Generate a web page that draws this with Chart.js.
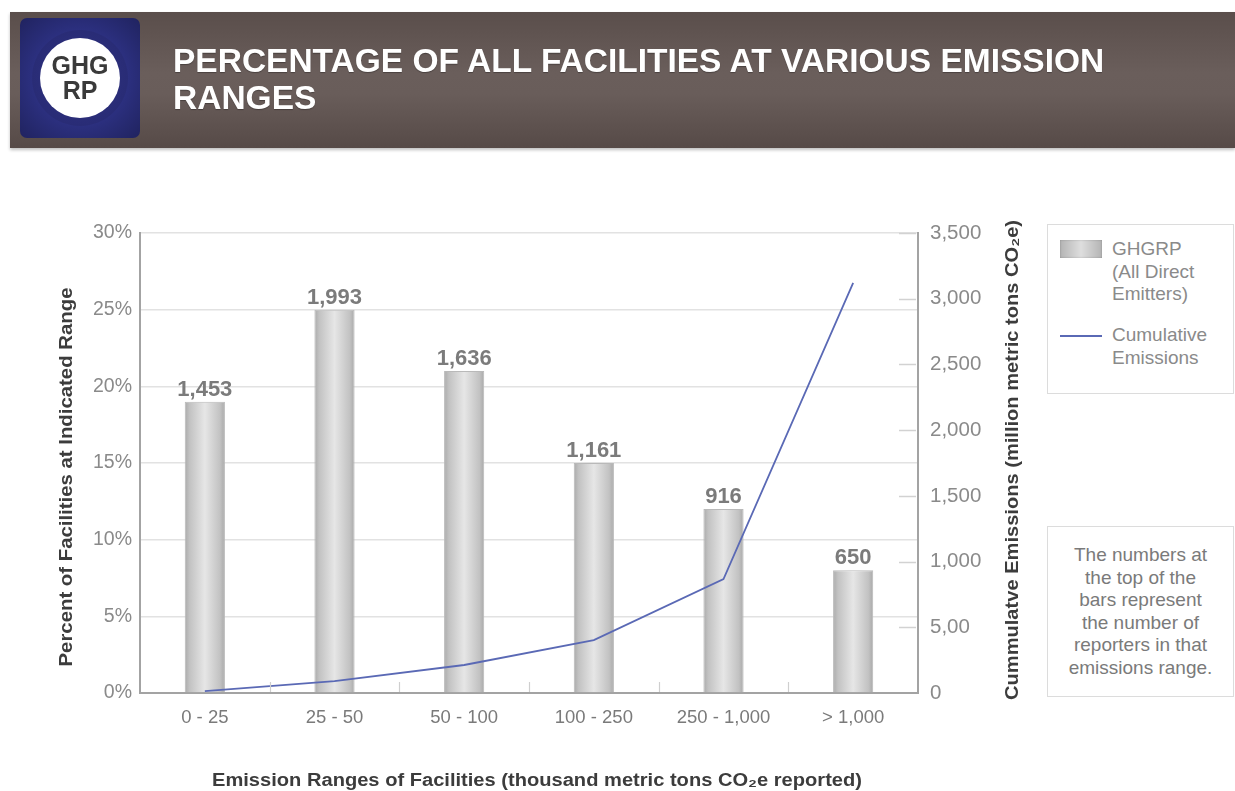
<!DOCTYPE html>
<html>
<head>
<meta charset="utf-8">
<script src="https://cdn.jsdelivr.net/npm/chart.js@4.4.1/dist/chart.umd.min.js"></script>
<style>
  html,body{margin:0;padding:0;background:#fff;}
  body{width:1235px;height:791px;overflow:hidden;position:relative;font-family:"Liberation Sans",Arial,sans-serif;}
  #header{position:absolute;left:10px;top:12px;width:1225px;height:136px;
    background:linear-gradient(to bottom,#5a4e4b 0%,#6a5e5b 45%,#695d5a 60%,#564a47 100%);
    box-shadow:0 2px 3px rgba(0,0,0,0.25);z-index:2;}
  #logo{position:absolute;left:10px;top:6px;width:120px;height:120px;border-radius:7px;
    background:radial-gradient(circle at 50% 50%,#3b3f96 0%,#2c3080 55%,#20235f 100%);}
  #logoRing{position:absolute;left:12px;top:12px;width:96px;height:96px;border-radius:50%;
    background:radial-gradient(circle,#2a2d78 60%,#262970 100%);}
  #logoCircle{position:absolute;left:20px;top:20px;width:80px;height:80px;border-radius:50%;background:#fff;
    display:flex;align-items:center;justify-content:center;text-align:center;
    font-weight:bold;font-size:25px;line-height:25px;color:#3a3a3a;}
  #title{position:absolute;left:163px;top:30px;color:#fff;font-weight:bold;font-size:33.5px;line-height:37px;
    text-shadow:0 1px 1px rgba(0,0,0,0.3);}
  #chart{position:absolute;left:0;top:0;z-index:1;}
  .box{position:absolute;left:1047px;width:185px;border:1.5px solid #dcdcdc;background:#fff;z-index:2;color:#8a8a8a;font-size:19px;line-height:22.5px;}
  #legend{top:224px;height:168px;}
  #note{top:526px;height:169px;text-align:center;color:#7a7a7a;}
  .sw{position:absolute;left:12px;width:42px;}
  #swBar{top:15px;height:18px;background:linear-gradient(to right,#b4b4b4,#dedede 50%,#b4b4b4);box-shadow:inset 0 0 2px rgba(0,0,0,0.25);}
  #swLine{top:110px;height:2px;background:#5a69b5;}
  .lt{position:absolute;left:64px;}
</style>
</head>
<body>
<div id="header">
  <div id="logo"><div id="logoRing"></div><div id="logoCircle">GHG<br>RP</div></div>
  <div id="title">PERCENTAGE OF ALL FACILITIES AT VARIOUS EMISSION<br>RANGES</div>
</div>
<div id="legend" class="box">
  <div class="sw" id="swBar"></div>
  <div class="lt" style="top:13px;">GHGRP<br>(All Direct<br>Emitters)</div>
  <div class="sw" id="swLine"></div>
  <div class="lt" style="top:99px;">Cumulative<br>Emissions</div>
</div>
<div id="note" class="box"><div style="padding-top:17px;">The numbers at<br>the top of the<br>bars represent<br>the number of<br>reporters in that<br>emissions range.</div></div>
<canvas id="chart" width="1235" height="791"></canvas>
<script>
// ---- data ----
const categories = ['0 - 25', '25 - 50', '50 - 100', '100 - 250', '250 - 1,000', '> 1,000'];
const facilityPercent = [19, 25, 21, 15, 12, 8];
const facilityCounts = [1453, 1993, 1636, 1161, 916, 650];
const cumulativeEmissions = [15, 91, 213, 403, 867, 3120];
const percentTickValues = [0, 5, 10, 15, 20, 25, 30];
const emissionTickLabels = ['0', '5,00', '1,000', '1,500', '2,000', '2,500', '3,000', '3,500'];

const xTitle = 'Emission Ranges of Facilities (thousand metric tons CO\u2082e reported)';
const yTitle = 'Percent of Facilities at Indicated Range';
const y1Title = 'Cummulatve Emissions (million metric tons CO\u2082e)';

const FONT = '"Liberation Sans", Arial, sans-serif';

function barGradient(ctx) {
  const chart = ctx.chart;
  const area = chart.chartArea;
  if (!area) return '#cccccc';
  const xs = chart.scales.x;
  const cx = xs.getPixelForValue(ctx.dataIndex);
  const half = (area.right - area.left) / categories.length * 0.31 / 2;
  const g = chart.ctx.createLinearGradient(cx - half, 0, cx + half, 0);
  g.addColorStop(0, '#aaaaaa');
  g.addColorStop(0.12, '#c2c2c2');
  g.addColorStop(0.5, '#e6e6e6');
  g.addColorStop(0.88, '#c2c2c2');
  g.addColorStop(1, '#a8a8a8');
  return g;
}

function fitText(c, text, x, y, width, rot) {
  c.save();
  c.translate(x, y);
  if (rot) c.rotate(rot);
  const w = c.measureText(text).width;
  c.scale(width / w, 1);
  c.fillText(text, 0, 0);
  c.restore();
}

const decorations = {
  id: 'decorations',
  afterDraw(chart) {
    const c = chart.ctx;
    const area = chart.chartArea;
    const xs = chart.scales.x, y1 = chart.scales.y1;
    c.save();
    // inward tick marks on x axis at category boundaries
    c.strokeStyle = '#cfcfcf';
    c.lineWidth = 1.2;
    const step = (area.right - area.left) / categories.length;
    for (let i = 1; i < categories.length; i++) {
      const x = Math.round(xs.getPixelForValue(i) - step / 2) + 0.5;
      c.beginPath(); c.moveTo(x, area.bottom - 1); c.lineTo(x, area.bottom - 11); c.stroke();
    }
    // inward tick marks on right axis
    c.strokeStyle = '#d2d2d2';
    c.lineWidth = 1.5;
    y1.ticks.forEach(t => {
      if (t.value === 0) return;
      const y = Math.round(y1.getPixelForValue(t.value)) + 0.5;
      c.beginPath(); c.moveTo(area.right - 19, y); c.lineTo(area.right - 2, y); c.stroke();
    });
    // bar value labels
    const meta = chart.getDatasetMeta(0);
    c.fillStyle = '#7b7b7b';
    c.font = 'bold 22px ' + FONT;
    c.textAlign = 'center';
    c.textBaseline = 'alphabetic';
    meta.data.forEach((el, i) => {
      c.fillText(facilityCounts[i].toLocaleString('en-US'), el.x, el.y - 6);
    });
    // axis titles
    c.fillStyle = '#3c3c3c';
    c.textBaseline = 'middle';
    c.font = 'bold 18px ' + FONT;
    fitText(c, xTitle, 537, 781, 650, 0);
    fitText(c, yTitle, 67, 477, 379, -Math.PI / 2);
    fitText(c, y1Title, 1013, 460, 480, -Math.PI / 2);
    c.restore();
  }
};

new Chart(document.getElementById('chart'), {
  type: 'bar',
  data: {
    labels: categories,
    datasets: [
      {
        type: 'bar',
        label: 'GHGRP (All Direct Emitters)',
        data: facilityPercent,
        yAxisID: 'y',
        backgroundColor: barGradient,
        borderColor: '#b9b9b9',
        borderWidth: 1,
        barPercentage: 0.31,
        categoryPercentage: 1,
        order: 2
      },
      {
        type: 'line',
        label: 'Cumulative Emissions',
        data: cumulativeEmissions,
        yAxisID: 'y1',
        borderColor: '#5a69b5',
        borderWidth: 1.8,
        pointRadius: 0,
        tension: 0,
        fill: false,
        order: 1
      }
    ]
  },
  options: {
    responsive: false,
    animation: false,
    events: [],
    layout: { padding: { top: 233, left: 0, right: 195, bottom: 0 } },
    plugins: { legend: { display: false }, tooltip: { enabled: false }, title: { display: false } },
    scales: {
      x: {
        offset: true,
        grid: { display: false, drawTicks: false },
        border: { display: true, color: '#a3a3a3', width: 2 },
        ticks: { color: '#7a7a7a', font: { family: FONT, size: 18.5 }, padding: 14, maxRotation: 0 },
        afterFit(s) { s.height = 98; }
      },
      y: {
        position: 'left',
        min: 0, max: 30,
        afterBuildTicks(s) { s.ticks = percentTickValues.map(v => ({ value: v })); },
        grid: { color: '#e2e2e2', lineWidth: 1.5, drawTicks: false },
        border: { display: true, color: '#a3a3a3', width: 2 },
        ticks: { color: '#8a8a8a', font: { family: FONT, size: 19.5 }, padding: 8, callback: v => v + '%' },
        afterFit(s) { s.width = 140; }
      },
      y1: {
        position: 'right',
        min: 0, max: 3500,
        ticks: { stepSize: 500, color: '#8a8a8a', font: { family: FONT, size: 20.5 }, padding: 12,
          callback: (v, i) => emissionTickLabels[i] },
        grid: { drawOnChartArea: false, drawTicks: false },
        border: { display: true, color: '#a3a3a3', width: 2 },
        afterFit(s) { s.width = 122; }
      }
    }
  },
  plugins: [decorations]
});
</script>
</body>
</html>
